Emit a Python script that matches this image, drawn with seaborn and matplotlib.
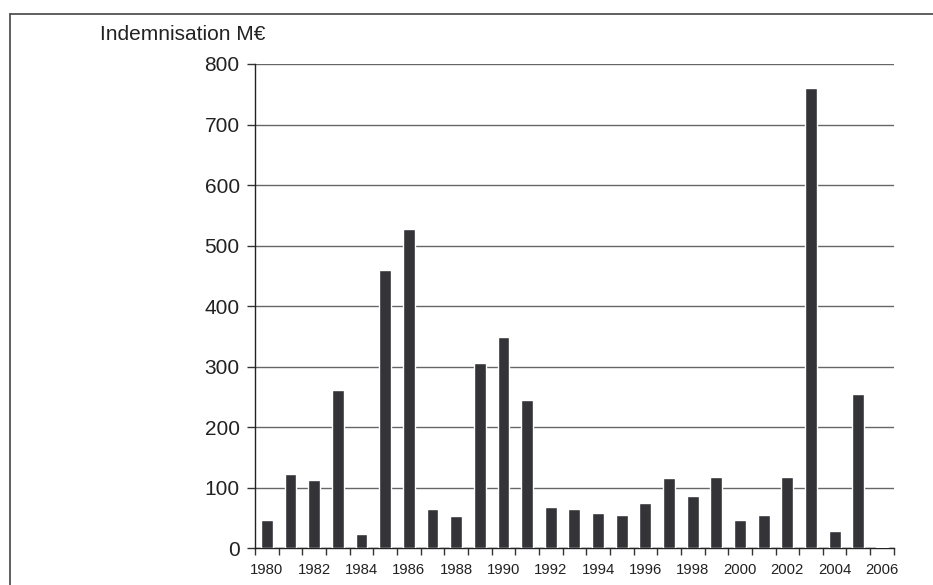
import matplotlib
matplotlib.use("Agg")
import matplotlib.pyplot as plt
from matplotlib.lines import Line2D
import seaborn as sns
import pandas as pd

# Data
years = [str(y) for y in range(1980, 2007)]
indemnisation = [46, 122, 112, 261, 23, 460, 528, 64, 53, 306, 348, 245, 68, 65,
                 58, 55, 75, 115, 86, 117, 47, 55, 117, 760, 28, 255, 2]
y_ticks = [0, 100, 200, 300, 400, 500, 600, 700, 800]

df = pd.DataFrame({"Annee": years, "Indemnisation": indemnisation})

sns.set_style("white")
plt.rcParams['font.family'] = ['Liberation Sans', 'DejaVu Sans']

fig = plt.figure(figsize=(9.33, 5.85), dpi=100)
ax = fig.add_axes([0.2733, 0.0632, 0.6847, 0.8274])

sns.barplot(data=df, x="Annee", y="Indemnisation", color="#343338",
            width=0.5, saturation=1, ax=ax, zorder=3)

ax.set_ylim(0, 800)
ax.set_xlim(-0.5, len(years) - 0.5)
ax.set_yticks(y_ticks)
ax.set_yticklabels([str(v) for v in y_ticks], fontsize=15, color="#222222")
ax.yaxis.grid(True, color="#666666", linewidth=1, zorder=0)

# labels every other year, ticks at category boundaries
ax.set_xticks(range(0, len(years), 2))
ax.set_xticklabels(years[::2], fontsize=10.7, color="#222222")
ax.tick_params(axis="x", which="major", length=0, pad=11)
ax.set_xticks([i - 0.5 for i in range(len(years) + 1)], minor=True)
ax.tick_params(axis="x", which="minor", bottom=True, length=5,
               color="#333333", width=1)
ax.tick_params(axis="y", length=6, color="#333333", width=1, left=True, pad=5)

ax.set_xlabel("")
ax.set_ylabel("")
for side in ["top", "right"]:
    ax.spines[side].set_visible(False)
for side in ["left", "bottom"]:
    ax.spines[side].set_color("#222222")
    ax.spines[side].set_linewidth(1)

fig.text(100 / 933, 1 - 34 / 585, "Indemnisation M€", fontsize=15,
         color="#222222", ha="left", va="center")

# outer frame (top and left edges)
fig.add_artist(Line2D([10 / 933, 10 / 933], [0, 1 - 14 / 585],
                      transform=fig.transFigure, color="#444444", linewidth=1.2))
fig.add_artist(Line2D([10 / 933, 1], [1 - 14 / 585, 1 - 14 / 585],
                      transform=fig.transFigure, color="#444444", linewidth=1.2))

fig.savefig("out.png", dpi=100)
